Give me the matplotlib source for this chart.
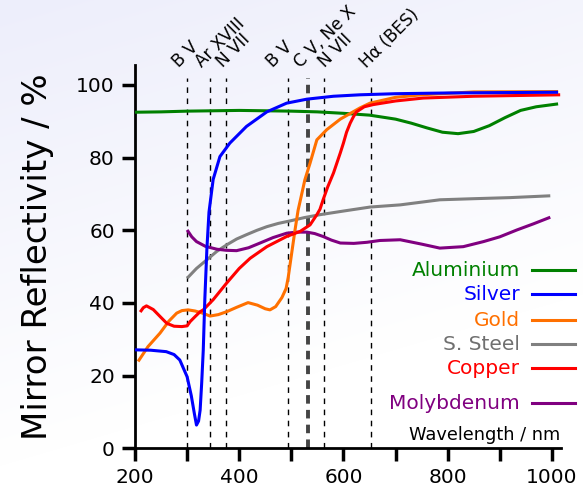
import numpy as np
import matplotlib
matplotlib.use("Agg")
import matplotlib.pyplot as plt
from matplotlib.lines import Line2D
from matplotlib.ticker import MultipleLocator

# reflectivity curves (wavelength in nm, reflectivity in %)
al_wl = [200, 250, 300, 350, 400, 450, 500, 550, 600, 650, 700, 730, 760, 790, 820, 850, 880, 910, 940, 970, 1012]
al_r = [92.5, 92.6, 92.8, 92.9, 93.0, 92.9, 92.8, 92.6, 92.2, 91.7, 90.6, 89.5, 88.2, 87.0, 86.6, 87.2, 88.8, 91.0, 93.0, 94.0, 94.8]

ag_wl = [200, 230, 260, 275, 286, 300, 308, 314, 318, 322, 325, 328, 331, 334, 338, 342, 350, 363, 382, 414, 453, 491, 530, 581, 632, 700, 800, 900, 1012]
ag_r = [27.1, 27.0, 26.6, 25.8, 24.3, 19.7, 14.5, 9.5, 6.4, 7.5, 10.5, 18, 27, 41, 55, 65, 74, 80.3, 84, 88.6, 92.6, 95, 96.1, 96.9, 97.3, 97.6, 97.8, 97.9, 98.0]

au_wl = [206, 225, 248, 265, 280, 290, 302, 315, 330, 344, 360, 376, 395, 417, 435, 450, 459, 470, 482, 490, 494, 500, 507, 513, 520, 526, 536, 549, 568, 594, 632, 651, 700, 750, 850, 1012]
au_r = [23.9, 28, 31.7, 35, 37.2, 37.9, 38.1, 37.8, 37.2, 36.4, 36.8, 37.6, 38.8, 40.1, 39.4, 38.4, 38.1, 39, 41.5, 44, 47, 53, 60, 65.5, 70, 73.9, 78.5, 84.9, 87.7, 90.6, 93.7, 95, 96.6, 97.3, 98.1, 98.2]

ss_wl = [300, 318, 338, 357, 376, 395, 414, 434, 453, 475, 498, 525, 555, 600, 651, 709, 785, 850, 920, 997]
ss_r = [46.8, 49.5, 51.9, 54.2, 56, 57.6, 58.8, 60, 61, 61.9, 62.6, 63.5, 64.3, 65.3, 66.4, 67, 68.4, 68.7, 69, 69.5]

cu_wl = [210, 216, 222, 235, 250, 261, 275, 290, 300, 306, 315, 325, 331, 350, 376, 400, 421, 453, 491, 517, 536, 549, 555, 561, 570, 581, 594, 600, 606, 613, 619, 625, 640, 657, 700, 753, 850, 1016]
cu_r = [37.5, 38.7, 39.2, 38.2, 36, 34.4, 33.6, 33.5, 33.7, 34.9, 36.2, 37.6, 38.1, 40.9, 45.5, 49.5, 52.3, 55.5, 58.3, 59.7, 61.5, 64.3, 65.8, 68.4, 72, 75.8, 81.3, 84, 87, 89.5, 91.2, 92.6, 94, 94.6, 95.6, 96.4, 96.9, 97.3]

mo_wl = [300, 309, 318, 335, 357, 375, 395, 418, 440, 465, 491, 510, 530, 545, 561, 577, 594, 620, 645, 670, 709, 750, 785, 830, 869, 900, 933, 965, 997]
mo_r = [60.1, 58.2, 56.9, 55.6, 54.8, 54.5, 54.4, 55.2, 56.5, 58, 59.2, 59.5, 59.5, 59.1, 58.3, 57.3, 56.5, 56.4, 56.7, 57.2, 57.4, 56.2, 55.1, 55.5, 56.9, 58.2, 60.1, 61.8, 63.6]

materials = ["Aluminium", "Silver", "Gold", "S. Steel", "Copper", "Molybdenum"]
colours = ["#008000", "#0000ff", "#ff7000", "#808080", "#ff0000", "#800080"]
text_colours = ["#008000", "#0000ff", "#ff7000", "#707070", "#ff0000", "#800080"]

# spectral lines
line_wl = [300, 343, 375, 493, 532.6, 563, 652]
line_names = ["B V", "Ar XVIII", "N VII", "B V", "C V, Ne X", "N VII", "H\u03b1 (BES)"]
name_wl = [284, 328, 369, 465, 517, 565, 645]

W, H = 583, 490
fig = plt.figure(figsize=(W / 100, H / 100), dpi=100)

# faint lavender gradient behind everything
rows, cols = np.mgrid[0:H, 0:W]
s = np.clip((rows / H + 0.35 * cols / W) / 0.95, 0, 1)
top = np.array([237, 238, 251]) / 255.
img = top[None, None, :] + (1 - top)[None, None, :] * s[:, :, None]
fig.figimage(img, xo=0, yo=0, origin='upper', zorder=-5)

ax = fig.add_axes([135 / W, 1 - 448.3 / H, (560.7 - 135) / W, (448.3 - 65) / H])
ax.set_zorder(2)
ax.patch.set_alpha(0)
ax.set_xlim(200, 1017)
ax.set_ylim(0, 105.5)

for sp in ['top', 'right']:
    ax.spines[sp].set_visible(False)
for sp in ['left', 'bottom']:
    ax.spines[sp].set_linewidth(2)

ax.xaxis.set_major_locator(MultipleLocator(200))
ax.xaxis.set_minor_locator(MultipleLocator(100))
ax.yaxis.set_major_locator(MultipleLocator(20))
ax.tick_params(which='both', direction='out', length=9.5, width=2.5, labelsize=14.5, pad=5)

for w in line_wl:
    if abs(w - 532.6) < 1:
        ax.plot([w, w], [0, 102], color='#444444', lw=2.8, ls=(0, (2.2, 1.6)), zorder=2)
    else:
        ax.plot([w, w], [0, 102], color='black', lw=1.0, ls=(0, (4, 4)), zorder=2)

for name, w in zip(line_names, name_wl):
    ax.text(w, 104.6, name, rotation=45, rotation_mode='anchor', ha='left', va='baseline',
            fontsize=12.2, clip_on=False)

curves = [(al_wl, al_r), (ag_wl, ag_r), (au_wl, au_r), (ss_wl, ss_r), (cu_wl, cu_r), (mo_wl, mo_r)]
order = [3, 5, 0, 2, 4, 1]
for i in order:
    wl, r = curves[i]
    ax.plot(wl, r, color=colours[i], lw=2.2, zorder=3, solid_capstyle='butt', clip_on=False)

# hand placed legend, line to the right of the name
leg_y = [270, 294, 320, 344, 368, 403]
for name, c, tc, y in zip(materials, colours, text_colours, leg_y):
    fig.text(520 / W, 1 - y / H, name, color=tc, fontsize=14.5, ha='right', va='center', zorder=3)
    fig.add_artist(Line2D([532 / W, 575 / W], [1 - y / H, 1 - y / H], color=c, lw=2.2,
                          transform=fig.transFigure, zorder=3))

ax.text(1.0, 0.012, "Wavelength / nm", transform=ax.transAxes, ha='right', va='bottom', fontsize=12.8)
ax.set_ylabel("Mirror Reflectivity / %", fontsize=24.5)
ax.yaxis.set_label_coords(-0.19, 0.5)

plt.savefig('out.png', dpi=100)
